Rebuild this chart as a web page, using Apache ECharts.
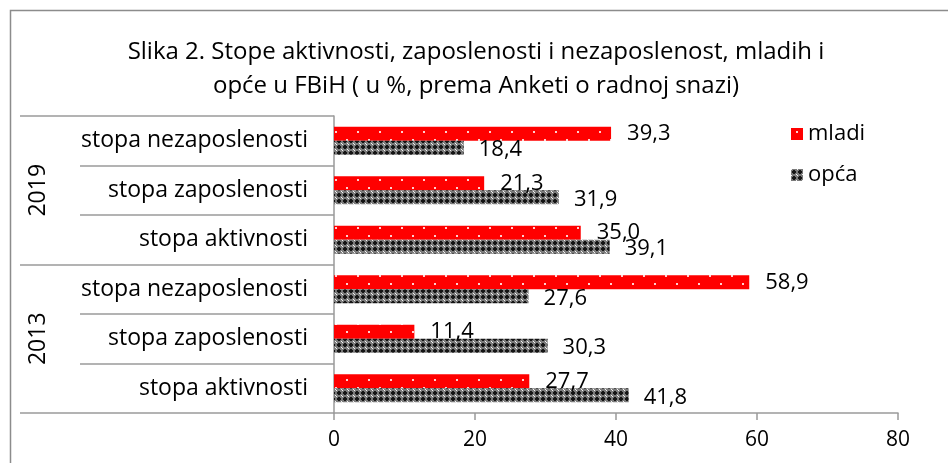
<!DOCTYPE html>
<html>
<head>
<meta charset="utf-8">
<script src="https://cdn.jsdelivr.net/npm/echarts@6/dist/echarts.min.js"></script>
<style>
  html, body { margin: 0; padding: 0; background: #fff; }
  #chart { width: 948px; height: 463px; }
</style>
</head>
<body>
<div id="chart"></div>
<script>
// chart data
const categories = [
    'stopa aktivnosti', 'stopa zaposlenosti', 'stopa nezaposlenosti',
    'stopa aktivnosti', 'stopa zaposlenosti', 'stopa nezaposlenosti'
];
const years = ['2013', '2019'];
const mladi = [27.7, 11.4, 58.9, 35.0, 21.3, 39.3];
const opca = [41.8, 30.3, 27.6, 39.1, 31.9, 18.4];
const xTicks = [0, 20, 40, 60, 80];

const FONT = '"Open Sans", sans-serif';
const AXIS_GRAY = '#9a9a9a';

// red with little white dots
function redPattern() {
    const c = document.createElement('canvas');
    c.width = 22; c.height = 16;
    const ctx = c.getContext('2d');
    ctx.fillStyle = '#ff0000';
    ctx.fillRect(0, 0, 22, 16);
    ctx.fillStyle = '#ffd0d0';
    ctx.fillRect(5, 3, 2, 2);
    ctx.fillRect(16, 11, 2, 2);
    return c;
}

// dark checker / cross pattern
function grayPattern() {
    const c = document.createElement('canvas');
    c.width = 6; c.height = 6;
    const ctx = c.getContext('2d');
    ctx.fillStyle = '#7a7a7a';
    ctx.fillRect(0, 0, 6, 6);
    ctx.fillStyle = '#151515';
    ctx.fillRect(1, 2, 4, 2);
    ctx.fillRect(2, 1, 2, 4);
    ctx.fillStyle = '#f4f4f4';
    ctx.fillRect(5, 5, 1, 1);
    ctx.fillRect(0, 0, 1, 1);
    return c;
}

const fmt = p => p.value.toFixed(1).replace('.', ',');

const chart = echarts.init(document.getElementById('chart'));

chart.setOption({
    animation: false,
    textStyle: { fontFamily: FONT },
    title: {
        text: 'Slika 2. Stope aktivnosti, zaposlenosti i nezaposlenost, mladih i\nopće u FBiH ( u %, prema Anketi o radnoj snazi)',
        left: 471,
        textAlign: 'center',
        top: 30,
        textStyle: {
            fontFamily: FONT,
            fontSize: 24,
            fontWeight: 'normal',
            color: '#000',
            lineHeight: 34
        }
    },
    legend: {
        orient: 'vertical',
        left: 786,
        top: 118,
        itemWidth: 12,
        itemHeight: 12,
        itemGap: 19,
        icon: 'rect',
        data: ['mladi', 'opća'],
        textStyle: { fontFamily: FONT, fontSize: 22, color: '#000' }
    },
    grid: { left: 334, right: 50, top: 116, bottom: 50, containLabel: false },
    xAxis: {
        type: 'value',
        min: xTicks[0],
        max: xTicks[xTicks.length - 1],
        interval: 20,
        axisLine: { show: true, lineStyle: { color: AXIS_GRAY, width: 1.5 } },
        axisTick: { show: true, length: 7, lineStyle: { color: AXIS_GRAY, width: 1.5 } },
        splitLine: { show: false },
        axisLabel: { fontFamily: FONT, fontSize: 21, color: '#000', margin: 17 }
    },
    yAxis: [
        {
            type: 'category',
            data: categories,
            axisLine: { show: true, lineStyle: { color: AXIS_GRAY, width: 1.5 } },
            axisTick: { show: true, length: 254, interval: 0, lineStyle: { color: AXIS_GRAY, width: 1.5 } },
            axisLabel: { fontFamily: FONT, fontSize: 23, color: '#000', margin: 26, interval: 0 }
        },
        {
            type: 'category',
            data: years,
            position: 'left',
            offset: 0,
            axisLine: { show: false },
            axisTick: { show: true, length: 314, interval: 0, lineStyle: { color: AXIS_GRAY, width: 1.5 } },
            axisLabel: { fontFamily: FONT, fontSize: 23, color: '#000', rotate: 90, margin: 284 }
        }
    ],
    graphic: [{
        type: 'rect',
        shape: { x: 10.5, y: 10.5, width: 1200, height: 1200 },
        style: { fill: 'none', stroke: '#8c8c8c', lineWidth: 1.5 },
        silent: true
    }],
    series: [
        {
            name: 'mladi',
            type: 'bar',
            data: mladi,
            barWidth: 14,
            barGap: '0%',
            itemStyle: { color: { image: redPattern(), repeat: 'repeat' } },
            label: {
                show: true, position: 'right', distance: 16,
                formatter: fmt, fontFamily: FONT, fontSize: 22, color: '#000'
            }
        },
        {
            name: 'opća',
            type: 'bar',
            data: opca,
            barWidth: 14,
            barGap: '0%',
            itemStyle: { color: { image: grayPattern(), repeat: 'repeat' } },
            label: {
                show: true, position: 'right', distance: 15, offset: [0, 2],
                formatter: fmt, fontFamily: FONT, fontSize: 22, color: '#000'
            }
        }
    ]
});
</script>
</body>
</html>
